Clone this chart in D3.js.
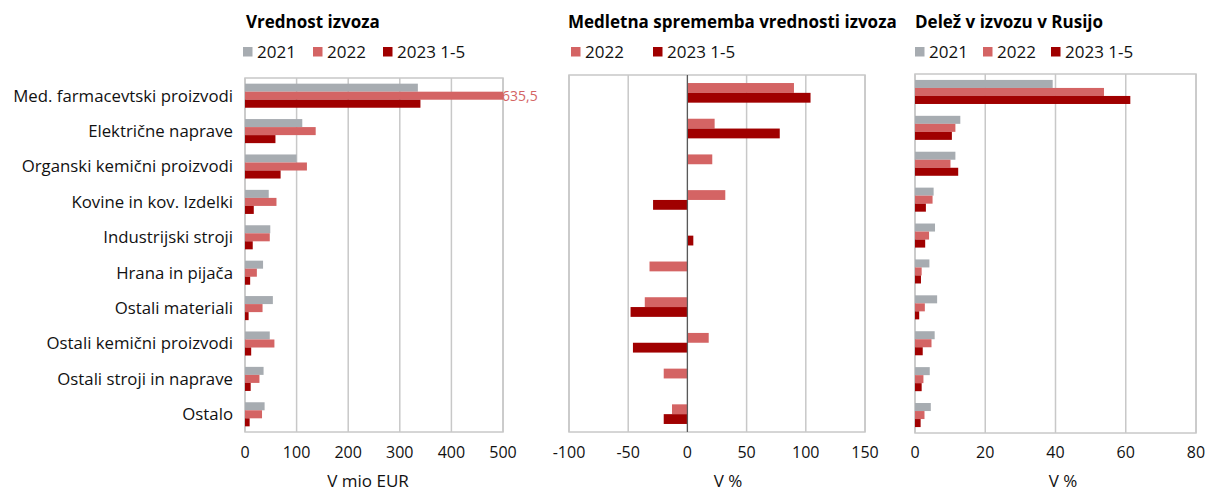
<!DOCTYPE html>
<html>
<head>
<meta charset="utf-8">
<script src="https://cdn.jsdelivr.net/npm/d3@7"></script>
<style>
  body { margin: 0; background: #fff; }
  svg { display: block; font-family: "Open Sans", sans-serif; }
</style>
</head>
<body>
<svg id="chart" width="1206" height="491"></svg>
<script>
// categories, top to bottom
const categories = [
  "Med. farmacevtski proizvodi", "Električne naprave", "Organski kemični proizvodi",
  "Kovine in kov. Izdelki", "Industrijski stroji", "Hrana in pijača",
  "Ostali materiali", "Ostali kemični proizvodi", "Ostali stroji in naprave", "Ostalo"
];

// Vrednost izvoza, mio EUR
const value2021 = [335, 111, 100, 46, 49, 35, 54, 48, 36, 38];
const value2022 = [635.5, 137, 120, 61, 48, 23, 34, 57, 28, 33];
const value2023 = [340, 59, 69, 17, 15, 10, 7, 12, 11, 9];

// Medletna sprememba, %
const change2022 = [90, 23, 21, 32, null, -32, -36, 18, -20, -13];
const change2023 = [104, 78, null, -29, 5, 0.5, -48, -46, null, -20];

// Delež v izvozu v Rusijo, %
const share2021 = [39.2, 12.9, 11.5, 5.3, 5.7, 4.1, 6.3, 5.6, 4.2, 4.5];
const share2022 = [53.8, 11.5, 10.1, 5.0, 4.0, 1.9, 2.8, 4.7, 2.4, 2.7];
const share2023 = [61.3, 10.5, 12.3, 3.1, 2.9, 1.7, 1.2, 2.2, 1.9, 1.6];

const valueTicks = [0, 100, 200, 300, 400, 500];
const changeTicks = [-100, -50, 0, 50, 100, 150];
const shareTicks = [0, 20, 40, 60, 80];

const colors = { "2021": "#a7acb1", "2022": "#d46464", "2023 1-5": "#a00000" };
const gridColor = "#c8c8c8";
const textColor = "#111";

const svg = d3.select("#chart");

function drawPanel(cfg) {
  const g = svg.append("g");

  let x = d3.scaleLinear()
    .domain(cfg.domain)
    .range([cfg.left, cfg.right])
    .clamp(true);

  let y = d3.scaleBand()
    .domain(categories)
    .range([cfg.top, cfg.bottom])
    .paddingInner(cfg.pad)
    .paddingOuter(cfg.pad / 2);

  let names = cfg.series.map(s => s.name);
  let ys = d3.scaleBand().domain(names).range([0, y.bandwidth()]);

  // vertical gridlines
  g.selectAll(".grid")
    .data(cfg.ticks)
    .join("line")
    .attr("x1", d => x(d)).attr("x2", d => x(d))
    .attr("y1", cfg.top).attr("y2", cfg.bottom)
    .attr("stroke", gridColor)
    .attr("stroke-width", 1.5);

  // plot border
  g.append("rect")
    .attr("x", cfg.left).attr("y", cfg.top)
    .attr("width", cfg.right - cfg.left)
    .attr("height", cfg.bottom - cfg.top)
    .attr("fill", "none")
    .attr("stroke", gridColor)
    .attr("stroke-width", 1.5);

  // data label (before bars so the bar end sits over it a bit)
  if (cfg.label) {
    let s = cfg.series.find(s => s.name === cfg.label.series);
    let v = s.values[cfg.label.index];
    g.append("text")
      .attr("x", x(v) - 1)
      .attr("y", y(categories[cfg.label.index]) + ys(s.name) + ys.bandwidth() / 2)
      .attr("dy", "0.35em")
      .attr("fill", colors[s.name])
      .style("font-size", "14px")
      .text(d3.format(".1f")(v).replace(".", ","));
  }

  // bars
  cfg.series.forEach(s => {
    let rows = categories.map((c, i) => ({ c: c, v: s.values[i] })).filter(d => d.v != null);
    g.selectAll(null)
      .data(rows)
      .join("rect")
      .attr("x", d => Math.min(x(0), x(d.v)))
      .attr("width", d => Math.abs(x(d.v) - x(0)))
      .attr("y", d => y(d.c) + ys(s.name))
      .attr("height", ys.bandwidth())
      .attr("fill", colors[s.name]);
  });

  // zero line for the change panel
  if (cfg.zeroLine) {
    g.append("line")
      .attr("x1", x(0)).attr("x2", x(0))
      .attr("y1", cfg.top).attr("y2", cfg.bottom)
      .attr("stroke", "#595959")
      .attr("stroke-width", 1.2);
  }

  // tick labels
  g.selectAll(".tick")
    .data(cfg.ticks)
    .join("text")
    .attr("x", d => x(d))
    .attr("y", 458)
    .attr("text-anchor", "middle")
    .attr("fill", textColor)
    .style("font-size", "16px")
    .text(d => d);

  // axis title
  g.append("text")
    .attr("x", cfg.axisTitleX)
    .attr("y", 487)
    .attr("text-anchor", "middle")
    .attr("fill", textColor)
    .style("font-size", "17px")
    .text(cfg.axisTitle);

  // panel title
  g.append("text")
    .attr("x", cfg.titleX)
    .attr("y", 28)
    .attr("fill", "#000")
    .style("font-size", "17px")
    .style("font-weight", "bold")
    .text(cfg.title);

  // legend
  cfg.series.forEach((s, i) => {
    let lx = cfg.legendX[i];
    g.append("rect")
      .attr("x", lx).attr("y", 47)
      .attr("width", 9.5).attr("height", 9.5)
      .attr("fill", colors[s.name]);
    g.append("text")
      .attr("x", lx + 14).attr("y", 52)
      .attr("dy", "0.35em")
      .attr("fill", textColor)
      .style("font-size", "17px")
      .text(s.name);
  });

  return { x: x, y: y };
}

let p1 = drawPanel({
  left: 245, right: 503, top: 78, bottom: 432, pad: 0.32,
  domain: [0, 500], ticks: valueTicks,
  series: [
    { name: "2021", values: value2021 },
    { name: "2022", values: value2022 },
    { name: "2023 1-5", values: value2023 }
  ],
  label: { series: "2022", index: 0 },
  title: "Vrednost izvoza", titleX: 246,
  legendX: [243, 313, 383],
  axisTitle: "V mio EUR", axisTitleX: 368
});

drawPanel({
  left: 569, right: 865, top: 75, bottom: 432, pad: 0.45,
  domain: [-100, 150], ticks: changeTicks,
  series: [
    { name: "2022", values: change2022 },
    { name: "2023 1-5", values: change2023 }
  ],
  zeroLine: true,
  title: "Medletna sprememba vrednosti izvoza", titleX: 568,
  legendX: [571, 653],
  axisTitle: "V %", axisTitleX: 728
});

drawPanel({
  left: 915, right: 1196, top: 74, bottom: 433, pad: 0.33,
  domain: [0, 80], ticks: shareTicks,
  series: [
    { name: "2021", values: share2021 },
    { name: "2022", values: share2022 },
    { name: "2023 1-5", values: share2023 }
  ],
  title: "Delež v izvozu v Rusijo", titleX: 915,
  legendX: [915, 983, 1051],
  axisTitle: "V %", axisTitleX: 1063
});

// category labels on the left
svg.append("g")
  .selectAll("text")
  .data(categories)
  .join("text")
  .attr("x", 233)
  .attr("y", d => p1.y(d) + p1.y.bandwidth() / 2)
  .attr("dy", "0.35em")
  .attr("text-anchor", "end")
  .attr("fill", textColor)
  .style("font-size", "16.8px")
  .text(d => d);
</script>
</body>
</html>
